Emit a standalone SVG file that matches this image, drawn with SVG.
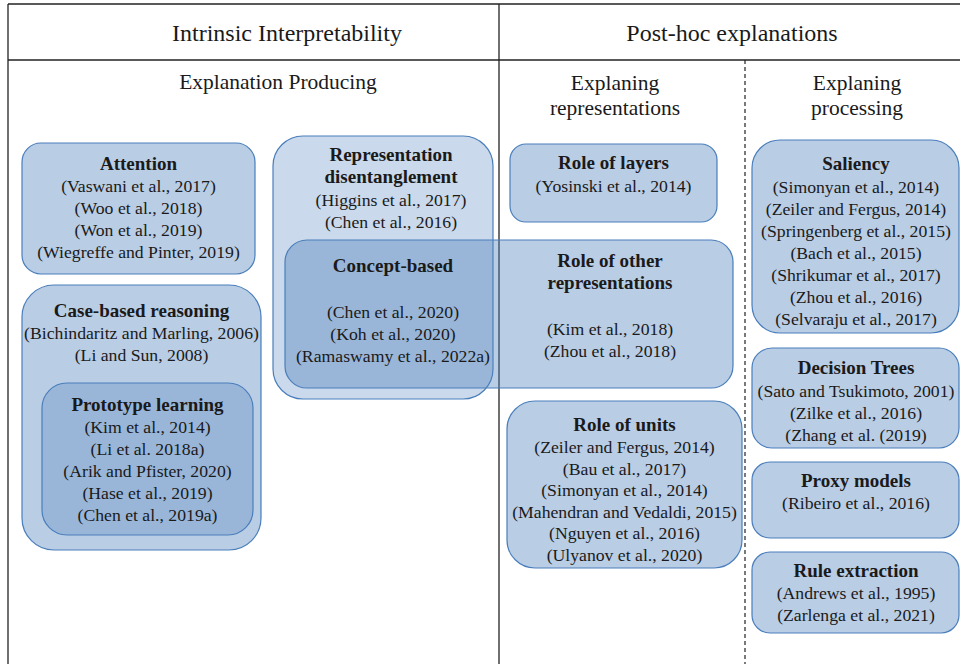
<svg xmlns="http://www.w3.org/2000/svg" width="960" height="664" viewBox="0 0 960 664" font-family="'Liberation Serif', 'DejaVu Serif', serif">
<style>
  text { font-family: 'Liberation Serif', 'DejaVu Serif', serif; fill: #1a1a1a; text-anchor: middle; }
  .h1 { font-size: 24px; }
  .h2 { font-size: 21.5px; }
  .t { font-size: 19px; font-weight: bold; }
  .b { font-size: 17.7px; }
  .frame { stroke: #222; stroke-width: 1.3; fill: none; }
  .dash { stroke: #222; stroke-width: 1.2; stroke-dasharray: 4 3; fill: none; }
  .box { fill: #4f81bd; fill-opacity: 0.4; stroke: #4a7ebb; stroke-width: 1.2; }
  .light { fill-opacity: 0.3; }
</style>

<g id="frame">
  <line class="frame" x1="8" y1="4" x2="960" y2="4"/>
  <line class="frame" x1="8" y1="60" x2="960" y2="60"/>
  <line class="frame" x1="8" y1="4" x2="8" y2="664"/>
  <line class="frame" x1="499" y1="4" x2="499" y2="664"/>
  <line class="dash" x1="745" y1="60" x2="745" y2="664"/>
</g>

<g id="headers">
  <text class="h1" x="287" y="41">Intrinsic Interpretability</text>
  <text class="h1" x="732" y="41">Post-hoc explanations</text>
  <text class="h2" x="278" y="89">Explanation Producing</text>
  <text class="h2" x="615" y="90">Explaning</text>
  <text class="h2" x="615" y="115">representations</text>
  <text class="h2" x="857" y="90">Explaning</text>
  <text class="h2" x="857" y="115">processing</text>
</g>

<g id="attention">
  <rect class="box" x="22" y="143" width="233" height="131" rx="19"/>
  <text class="t" x="138.5" y="170">Attention</text>
  <text class="b" x="138.5" y="192">(Vaswani et al., 2017)</text>
  <text class="b" x="138.5" y="214">(Woo et al., 2018)</text>
  <text class="b" x="138.5" y="236">(Won et al., 2019)</text>
  <text class="b" x="138.5" y="258">(Wiegreffe and Pinter, 2019)</text>
</g>

<g id="case-based-reasoning">
  <rect class="box" x="22" y="285" width="239" height="265" rx="32"/>
  <text class="t" x="141.5" y="317">Case-based reasoning</text>
  <text class="b" x="141.5" y="339">(Bichindaritz and Marling, 2006)</text>
  <text class="b" x="141.5" y="361">(Li and Sun, 2008)</text>
</g>

<g id="prototype-learning">
  <rect class="box light" x="42" y="383" width="211" height="152" rx="25"/>
  <text class="t" x="147.5" y="411">Prototype learning</text>
  <text class="b" x="147.5" y="433">(Kim et al., 2014)</text>
  <text class="b" x="147.5" y="455">(Li et al. 2018a)</text>
  <text class="b" x="147.5" y="477">(Arik and Pfister, 2020)</text>
  <text class="b" x="147.5" y="499">(Hase et al., 2019)</text>
  <text class="b" x="147.5" y="521">(Chen et al., 2019a)</text>
</g>

<g id="representation-disentanglement">
  <rect class="box light" x="273" y="136" width="220" height="263" rx="30"/>
  <text class="t" x="391" y="161">Representation</text>
  <text class="t" x="391" y="183">disentanglement</text>
  <text class="b" x="391" y="206">(Higgins et al., 2017)</text>
  <text class="b" x="391" y="228">(Chen et al., 2016)</text>
</g>

<g id="concept-based">
  <rect class="box" x="285" y="240" width="448" height="148" rx="22"/>
  <text class="t" x="393" y="272">Concept-based</text>
  <text class="b" x="393" y="318">(Chen et al., 2020)</text>
  <text class="b" x="393" y="340">(Koh et al., 2020)</text>
  <text class="b" x="393" y="362">(Ramaswamy et al., 2022a)</text>
</g>

<g id="role-of-other-representations">
  <text class="t" x="610" y="267">Role of other</text>
  <text class="t" x="610" y="289">representations</text>
  <text class="b" x="610" y="335">(Kim et al., 2018)</text>
  <text class="b" x="610" y="357">(Zhou et al., 2018)</text>
</g>

<g id="role-of-layers">
  <rect class="box" x="510" y="144" width="207" height="78" rx="16"/>
  <text class="t" x="613.5" y="169">Role of layers</text>
  <text class="b" x="613.5" y="192">(Yosinski et al., 2014)</text>
</g>

<g id="role-of-units">
  <rect class="box" x="507" y="401" width="235" height="167" rx="28"/>
  <text class="t" x="624.5" y="431">Role of units</text>
  <text class="b" x="624.5" y="453">(Zeiler and Fergus, 2014)</text>
  <text class="b" x="624.5" y="474.5">(Bau et al., 2017)</text>
  <text class="b" x="624.5" y="496">(Simonyan et al., 2014)</text>
  <text class="b" x="624.5" y="517.5">(Mahendran and Vedaldi, 2015)</text>
  <text class="b" x="624.5" y="539">(Nguyen et al., 2016)</text>
  <text class="b" x="624.5" y="560.5">(Ulyanov et al., 2020)</text>
</g>

<g id="saliency">
  <rect class="box" x="752" y="140" width="207" height="193" rx="28"/>
  <text class="t" x="856" y="170">Saliency</text>
  <text class="b" x="856" y="193">(Simonyan et al., 2014)</text>
  <text class="b" x="856" y="215">(Zeiler and Fergus, 2014)</text>
  <text class="b" x="856" y="237">(Springenberg et al., 2015)</text>
  <text class="b" x="856" y="259">(Bach et al., 2015)</text>
  <text class="b" x="856" y="281">(Shrikumar et al., 2017)</text>
  <text class="b" x="856" y="303">(Zhou et al., 2016)</text>
  <text class="b" x="856" y="325">(Selvaraju et al., 2017)</text>
</g>

<g id="decision-trees">
  <rect class="box" x="752" y="348" width="207" height="100" rx="20"/>
  <text class="t" x="856" y="374">Decision Trees</text>
  <text class="b" x="856" y="397">(Sato and Tsukimoto, 2001)</text>
  <text class="b" x="856" y="419">(Zilke et al., 2016)</text>
  <text class="b" x="856" y="441">(Zhang et al. (2019)</text>
</g>

<g id="proxy-models">
  <rect class="box" x="752" y="462" width="207" height="76" rx="18"/>
  <text class="t" x="856" y="487">Proxy models</text>
  <text class="b" x="856" y="509">(Ribeiro et al., 2016)</text>
</g>

<g id="rule-extraction">
  <rect class="box" x="752" y="552" width="207" height="81" rx="18"/>
  <text class="t" x="856" y="577">Rule extraction</text>
  <text class="b" x="856" y="599">(Andrews et al., 1995)</text>
  <text class="b" x="856" y="621">(Zarlenga et al., 2021)</text>
</g>
</svg>
